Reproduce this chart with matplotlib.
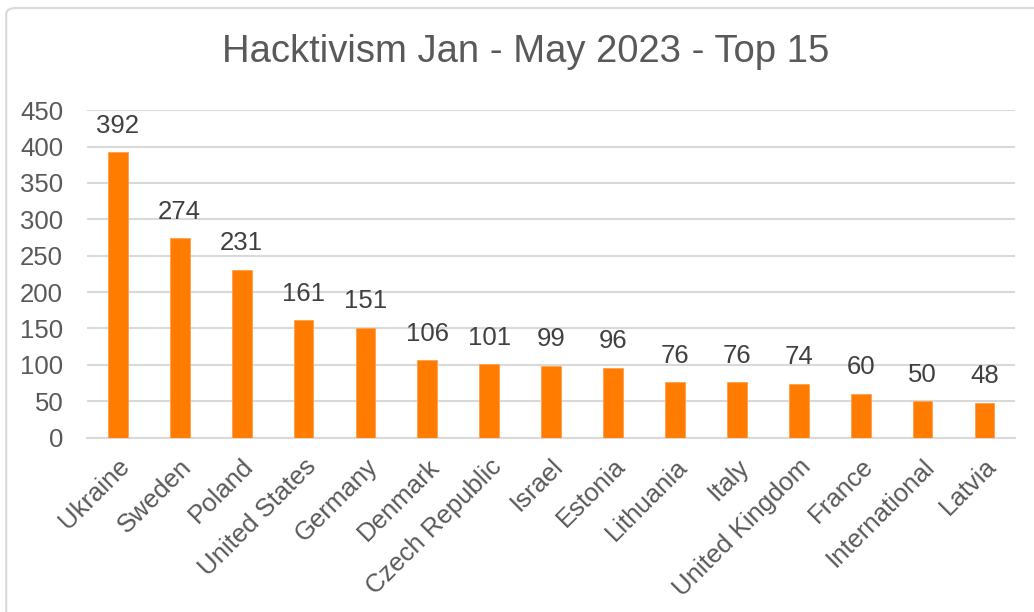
import matplotlib.pyplot as plt
from matplotlib.patches import FancyBboxPatch

plt.rcParams['font.family'] = ['Liberation Sans', 'DejaVu Sans']

countries = ['Ukraine', 'Sweden', 'Poland', 'United States', 'Germany', 'Denmark',
             'Czech Republic', 'Israel', 'Estonia', 'Lithuania', 'Italy',
             'United Kingdom', 'France', 'International', 'Latvia']
attacks = [392, 274, 231, 161, 151, 106, 101, 99, 96, 76, 76, 74, 60, 50, 48]
yticks = [0, 50, 100, 150, 200, 250, 300, 350, 400, 450]

text_col = '#595959'
grid_col = '#d9d9d9'
bar_col = '#ff7c00'

fig = plt.figure(figsize=(10.34, 6.12), dpi=100)
fig.patches.append(FancyBboxPatch((0.006, -0.05), 1.05, 1.037,
                                  boxstyle='round,pad=0,rounding_size=0.01',
                                  transform=fig.transFigure, facecolor='white',
                                  edgecolor=grid_col, linewidth=1.5, zorder=-5))

ax = fig.add_axes([0.084, 0.285, 0.898, 0.535])
ax.patch.set_alpha(0)
x = range(len(countries))
bars = ax.bar(x, attacks, width=0.32, color=bar_col, edgecolor='#ffa04d',
              linewidth=0.6, zorder=3)
for xi, v in zip(x, attacks):
    ax.text(xi, v + 20, str(v), ha='center', va='bottom', fontsize=18.5,
            color='#404040')

ax.set_xlim(-0.5, len(countries) - 0.5)
ax.set_ylim(0, 450)
ax.set_yticks(yticks)
ax.set_yticklabels([str(t) for t in yticks], fontsize=18.5, color=text_col)
ax.set_xticks(list(x))
ax.set_xticklabels(countries, rotation=45, ha='right', rotation_mode='anchor',
                   fontsize=18.5, color=text_col)
ax.tick_params(axis='both', length=0)
ax.tick_params(axis='y', pad=17)
ax.tick_params(axis='x', pad=12)
ax.grid(axis='y', color=grid_col, linewidth=1.5, zorder=0)
for s in ['top', 'right', 'left']:
    ax.spines[s].set_visible(False)
ax.spines['bottom'].set_color(grid_col)
ax.spines['bottom'].set_linewidth(1.5)

fig.text(0.508, 0.915, 'Hacktivism Jan - May 2023 - Top 15', ha='center',
         va='center', fontsize=27.5, color=text_col)

fig.savefig('out.png', dpi=100)
